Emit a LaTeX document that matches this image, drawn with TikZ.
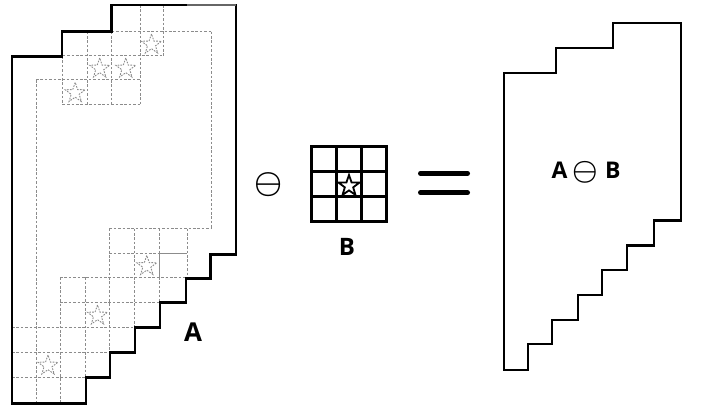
\documentclass[tikz,border=0pt]{standalone}
\usepackage{fontspec}
\setsansfont{Open Sans}
\usetikzlibrary{shapes.geometric}
\begin{document}
\begin{tikzpicture}[x=1pt,y=-1pt,
  outl/.style={line width=2.6pt, line join=miter, line cap=rect, black},
  grid/.style={draw=black!45, line width=1pt, dash pattern=on 2.6pt off 1.8pt},
  sgrid/.style={draw=black!45, line width=1pt},
  dstar/.style={star, star points=5, star point ratio=2.5, minimum size=21pt, inner sep=0pt,
    draw=black!45, line width=0.9pt, dash pattern=on 1.7pt off 1.2pt},
  bstar/.style={star, star points=5, star point ratio=2.5, minimum size=22pt, inner sep=0pt,
    draw=black, fill=white, line width=1.8pt},
  lab/.style={font=\sffamily\bfseries\fontsize{26}{26}\selectfont, inner sep=0pt},
  eqbar/.style={line width=5pt, line cap=round, black}]
\useasboundingbox (0,0) rectangle (707,419);

% ---- dashed grids inside A (top) ----
\draw[grid] (36,80)--(36,403);
\draw[grid] (62.7,56)--(62.7,105);
\draw[grid] (87.7,31.7)--(87.7,105);
\draw[grid] (111.7,31.7)--(111.7,105);
\draw[grid] (140,5)--(140,105);
\draw[grid] (163,5)--(163,56);
\draw[grid] (211.5,31.7)--(211.5,228.7);
\draw[grid] (111.7,31.7)--(211.5,31.7);
\draw[grid] (62.7,56)--(163,56);
\draw[grid] (36,80)--(140,80);
\draw[grid] (62.7,105)--(140,105);

% ---- dashed grids inside A (bottom) ----
\draw[grid] (109.3,228.7)--(211.5,228.7);
\draw[grid] (109.3,228.7)--(109.3,352.3);
\draw[grid] (134.3,228.7)--(134.3,328);
\draw[grid] (159.3,228.7)--(159.3,253.7);
\draw[grid] (159.3,277)--(159.3,302.5);
\draw[sgrid] (159.3,253.7)--(159.3,277);
\draw[sgrid] (159.3,253.7)--(187,253.7);
\draw[grid] (187,228.7)--(187,277);
\draw[grid] (109.3,253.7)--(159.3,253.7);
\draw[grid] (60,277.3)--(187,277.3);
\draw[grid] (60,302.5)--(160,302.5);
\draw[grid] (60,277.3)--(60,403);
\draw[grid] (85,277.3)--(85,377.3);
\draw[grid] (12,327.7)--(135,327.7);
\draw[grid] (12,352.3)--(109.3,352.3);
\draw[grid] (12,378)--(86,378);

% ---- dashed stars ----
\node[dstar] (s1) at (151.5,44.5) {};
\node[dstar] (s2) at (99.7,68.5) {};
\node[dstar] (s3) at (125.8,68.5) {};
\node[dstar] (s4) at (75.2,93) {};
\node[dstar] (s5) at (146.8,266) {};
\node[dstar] (s6) at (97.5,315.5) {};
\node[dstar] (s7) at (48,365.5) {};

% ---- set A outline ----
\draw[outl] (187,5) -- (111.7,5) -- (111.7,31.7) -- (62,31.7) -- (62,56.7) -- (12,56.7)
  -- (12,403.3) -- (86,403.3) -- (86,377.3) -- (109.8,377.3) -- (109.8,352.5)
  -- (135,352.5) -- (135,327.7) -- (160,327.7) -- (160,302.7) -- (186,302.7)
  -- (186,278.3) -- (210.5,278.3) -- (210.5,254.3) -- (236,254.3) -- (236,5);
\draw[line width=1.6pt, black!60] (187,5) -- (236,5);
\node[lab] (la) at (193,332.5) {A};

% ---- erosion symbol ----
\node[inner sep=0pt] (om) at (268.3,185) {\scalebox{3.15}{\boldmath$\ominus$}};

% ---- structuring element B ----
\draw[line width=3pt, line join=miter] (311,146.7) rectangle (386.7,221.7);
\draw[line width=3pt] (336.3,146.7)--(336.3,221.7) (361.5,146.7)--(361.5,221.7)
  (311,171.7)--(386.7,171.7) (311,196.7)--(386.7,196.7);
\node[bstar] (bs) at (349,186) {};
\node[lab, font=\sffamily\bfseries\fontsize{24}{24}\selectfont] (lb) at (347,246.5) {B};

% ---- equals ----
\draw[eqbar] (420.5,173.3) -- (467.5,173.3);
\draw[eqbar] (420.5,192.7) -- (467.5,192.7);

% ---- result A erosion B ----
\draw[outl, line width=2.7pt, line cap=butt] (504,73) -- (556,73) -- (556,48) -- (613,48) -- (613,23)
  -- (681,23) -- (681,220.7) -- (654,220.7) -- (654,245.7) -- (627,245.7)
  -- (627,270) -- (602,270) -- (602,295) -- (578,295) -- (578,320) -- (552,320)
  -- (552,344) -- (528,344) -- (528,370) -- (504,370) -- cycle;
\node[lab, font=\sffamily\bfseries\fontsize{23}{23}\selectfont] (lr) at (586,172)
  {A\hspace{5pt}\raisebox{-0.5pt}{\scalebox{1.15}{\boldmath$\ominus$}}\hspace{7pt}B};
\end{tikzpicture}
\end{document}
